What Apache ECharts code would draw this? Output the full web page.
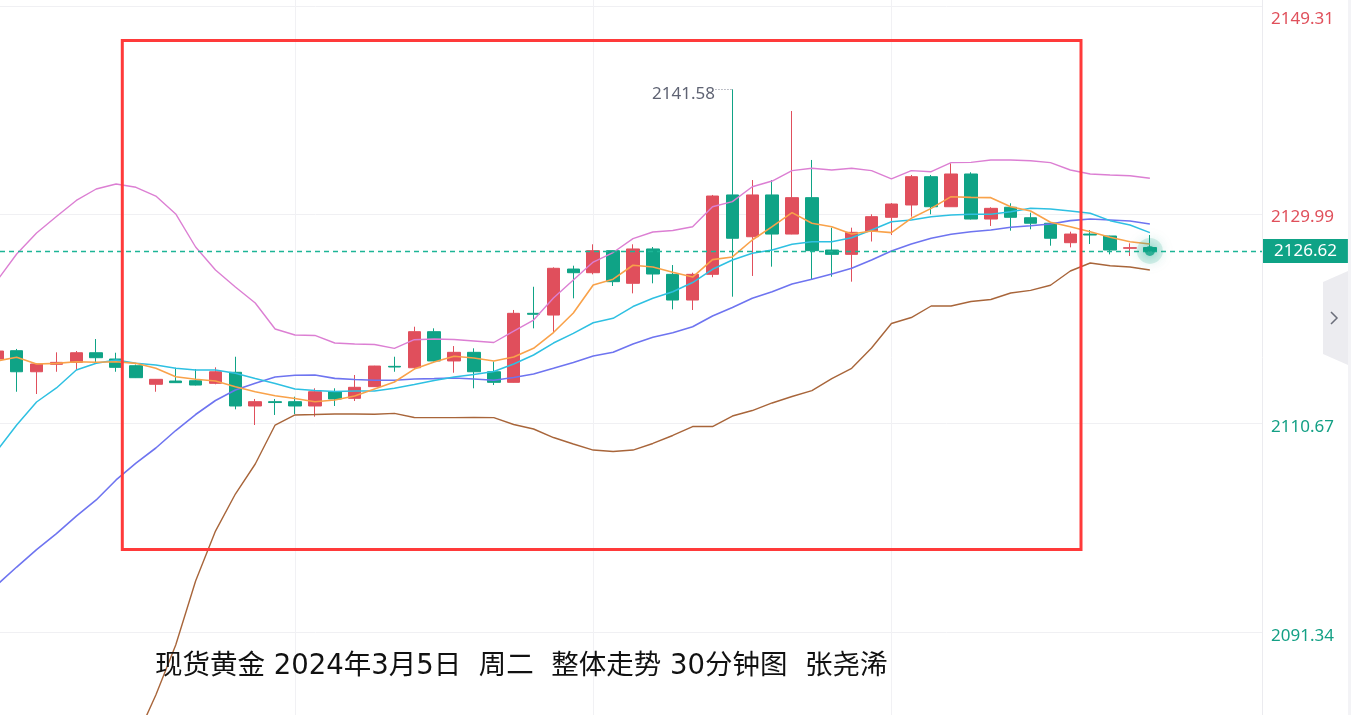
<!DOCTYPE html>
<html><head><meta charset="utf-8">
<script src="https://cdn.jsdelivr.net/npm/echarts@6/dist/echarts.min.js"></script>
<style>html,body{margin:0;padding:0;background:#fff;}#c{width:1351px;height:715px;}</style>
</head><body><div id="c"></div>
<script>
// ---- data (30-minute candles) ----
const OPEN  = [2116.61,2117.38,2115.43,2116.12,2116.30,2117.19,2116.61,2115.99,2114.27,2114.57,
               2114.60,2114.36,2115.38,2112.26,2112.66,2112.66,2112.26,2113.58,2112.97,2114.05,
               2115.93,2115.80,2119.14,2116.43,2117.23,2115.43,2114.45,2120.84,2120.68,2124.94,
               2124.60,2126.64,2123.62,2126.80,2124.45,2122.07,2124.45,2131.80,2127.93,2131.80,
               2128.18,2131.55,2126.70,2126.30,2128.42,2129.73,2130.87,2133.49,2130.71,2133.74,
               2129.57,2130.66,2129.69,2129.18,2127.38,2128.18,2128.00,2126.86,2126.93];
const CLOSE = [2117.35,2115.43,2116.15,2116.30,2117.19,2116.73,2115.84,2114.88,2114.73,2114.42,
               2114.20,2115.43,2112.26,2112.66,2112.58,2112.26,2113.58,2112.91,2113.99,2115.96,
               2115.87,2119.14,2116.43,2117.23,2115.43,2114.45,2120.84,2120.75,2125.01,2124.60,
               2126.64,2123.77,2126.80,2124.48,2122.07,2124.45,2131.70,2127.79,2131.80,2128.18,
               2131.55,2126.64,2126.30,2128.34,2129.79,2130.96,2133.49,2130.71,2133.74,2129.57,
               2130.56,2129.73,2129.18,2127.79,2128.18,2128.09,2126.70,2126.92,2126.62];
const LOW   = [2116.33,2113.58,2113.37,2115.43,2115.59,2116.30,2115.43,2114.85,2113.58,2114.40,
               2114.16,2114.27,2111.95,2110.50,2111.43,2111.52,2111.27,2112.26,2112.72,2114.03,
               2115.43,2115.66,2116.38,2115.34,2113.90,2114.20,2114.43,2119.45,2119.05,2122.23,
               2124.45,2123.37,2122.69,2123.62,2121.21,2121.15,2124.18,2122.38,2124.30,2125.16,
               2128.16,2123.99,2124.23,2123.77,2127.49,2128.09,2129.79,2130.01,2130.69,2129.53,
               2128.93,2128.49,2128.62,2127.10,2126.95,2127.26,2126.30,2126.15,2126.56];
const HIGH  = [2117.44,2117.54,2116.20,2117.23,2117.35,2118.46,2117.19,2116.10,2114.76,2115.80,
               2115.68,2115.84,2116.82,2112.91,2112.91,2113.12,2113.90,2113.90,2115.13,2115.98,
               2116.82,2119.60,2119.45,2117.81,2117.60,2116.38,2121.15,2123.30,2125.10,2125.25,
               2127.23,2126.66,2127.23,2126.98,2125.31,2124.60,2131.80,2141.58,2133.18,2133.18,
               2139.57,2135.04,2128.77,2128.77,2130.01,2131.05,2133.65,2133.65,2134.73,2133.90,
               2130.66,2131.03,2130.16,2129.20,2128.40,2128.55,2128.02,2127.32,2128.09];
// MA5 (orange)
const MA5   = [2116.43,2116.77,2116.15,2116.21,2116.36,2116.31,2116.36,2116.21,2115.75,2114.97,
               2114.73,2114.57,2114.05,2113.58,2113.21,2112.95,2112.66,2112.81,2113.18,2113.83,
               2114.48,2115.68,2116.33,2116.86,2116.70,2116.43,2116.80,2117.60,2119.06,2120.87,
               2123.46,2124.00,2125.29,2125.13,2124.65,2124.20,2125.81,2126.06,2127.63,2128.86,
               2130.16,2129.18,2128.86,2128.18,2128.46,2128.31,2129.64,2130.56,2131.64,2131.58,
               2131.55,2130.71,2130.31,2129.27,2128.86,2128.40,2127.88,2127.47,2127.26];
// MA10 (cyan)
const MA10  = [2108.09,2110.50,2112.63,2113.93,2115.59,2116.21,2116.52,2116.21,2116.06,2115.75,
               2115.59,2115.59,2115.29,2114.80,2114.34,2113.83,2113.69,2113.60,2113.65,2113.65,
               2113.90,2114.25,2114.62,2114.94,2115.18,2115.45,2116.15,2116.98,2118.09,2118.99,
               2119.97,2120.38,2121.47,2122.23,2122.84,2123.69,2124.92,2125.78,2126.40,2126.70,
               2127.23,2127.47,2127.47,2127.84,2128.56,2129.32,2129.48,2129.79,2129.94,2130.01,
               2130.01,2130.25,2130.56,2130.50,2130.31,2130.10,2129.42,2129.02,2128.31];
// Bollinger middle (blue)
const BOLL_MID = [2095.68,2097.35,2098.97,2100.45,2102.07,2103.56,2105.41,2106.98,2108.37,2109.99,
               2111.47,2112.77,2113.74,2114.36,2114.94,2115.10,2115.13,2114.82,2114.71,2114.65,
               2114.64,2114.76,2114.79,2114.85,2114.76,2114.65,2114.90,2115.22,2115.75,2116.29,
               2116.89,2117.23,2118.00,2118.62,2119.05,2119.60,2120.59,2121.38,2122.23,2122.84,
               2123.56,2123.99,2124.48,2125.01,2125.78,2126.61,2127.26,2127.79,2128.16,2128.40,
               2128.56,2128.81,2128.95,2129.11,2129.42,2129.57,2129.48,2129.39,2129.11];
// Bollinger upper (pink)
const BOLL_UP = [2123.83,2126.33,2128.28,2129.80,2131.29,2132.35,2132.81,2132.51,2131.70,2130.04,
               2126.98,2124.85,2123.28,2121.80,2119.39,2118.83,2118.79,2118.09,2118.00,2117.95,
               2117.60,2118.40,2118.46,2118.42,2118.28,2118.14,2119.20,2120.22,2122.26,2123.93,
               2125.59,2126.47,2127.75,2128.37,2128.51,2128.86,2130.71,2131.18,2132.56,2133.09,
               2134.05,2134.27,2134.11,2134.27,2134.05,2133.28,2134.05,2133.95,2134.79,2134.82,
               2135.04,2135.04,2134.97,2134.79,2134.11,2133.74,2133.65,2133.58,2133.34];
// Bollinger lower (brown)
const BOLL_DN = [2067.72,2069.11,2070.04,2071.06,2072.81,2074.76,2078.00,2081.43,2085.50,2090.13,
               2096.06,2100.68,2104.11,2106.89,2110.50,2111.43,2111.47,2111.52,2111.52,2111.49,
               2111.58,2111.19,2111.18,2111.18,2111.21,2111.18,2110.55,2110.13,2109.34,2108.74,
               2108.18,2108.05,2108.18,2108.79,2109.53,2110.36,2110.36,2111.33,2111.84,2112.54,
               2113.14,2113.69,2114.80,2115.75,2117.63,2119.90,2120.45,2121.52,2121.52,2121.93,
               2122.12,2122.72,2122.97,2123.44,2124.76,2125.50,2125.25,2125.13,2124.85];
const Y_TICKS = [2091.34, 2110.67, 2129.99, 2149.31];
const X_GRID = [15, 30, 45];
const LAST_PRICE = 2126.62;
const PEAK_INDEX = 37, PEAK_VALUE = 2141.58;
const CAPTION = '现货黄金 2024年3月5日  周二  整体走势 30分钟图  张尧浠';

// ---- chart ----
const RED = '#e04f5c', GREEN = '#0fa386';
const LABEL_RED = '#e0505b', LABEL_GREEN = '#14a085';
const chart = echarts.init(document.getElementById('c'), null, {renderer: 'canvas'});
const pair = arr => arr.map((v, i) => [i, v]);
const candles = OPEN.map((o, i) => [i, o, CLOSE[i], LOW[i], HIGH[i]]);
const lineSeries = (name, arr, color, w) => ({
  name, type: 'line', data: pair(arr), symbol: 'none', silent: true, z: 4,
  lineStyle: {color, width: w || 1.5}
});
const FONT = 'Noto Sans';
const lastIdx = CLOSE.length - 1;

const option = {
  animation: false,
  backgroundColor: '#ffffff',
  grid: {left: 0, right: 89, top: 0, bottom: 0},
  xAxis: {type: 'value', min: 0.161, max: 63.64, show: false},
  yAxis: {
    type: 'value', position: 'right', min: 2083.65, max: 2149.85,
    axisLine: {show: true, lineStyle: {color: '#ebebef', width: 1}},
    axisTick: {show: false, customValues: Y_TICKS},
    splitLine: {show: true, lineStyle: {color: '#f0f0f3', width: 1}},
    axisLabel: {
      customValues: Y_TICKS, margin: 9, fontFamily: FONT, fontSize: 17,
      formatter: v => {
        const key = v >= Y_TICKS[Y_TICKS.length - 1] ? 'top' : (v > LAST_PRICE ? 'up' : 'dn');
        return '{' + key + '|' + v.toFixed(2) + '}';
      },
      rich: {
        top: {color: LABEL_RED, fontFamily: FONT, fontSize: 17, padding: [27, 0, 0, 0]},
        up:  {color: LABEL_RED, fontFamily: FONT, fontSize: 17, padding: [6, 0, 0, 0]},
        dn:  {color: LABEL_GREEN, fontFamily: FONT, fontSize: 17, padding: [8, 0, 0, 0]}
      }
    }
  },
  series: [
    { // vertical grid lines
      type: 'line', data: [], z: 1, silent: true,
      markLine: {
        silent: true, z: 1, symbol: ['none', 'none'], label: {show: false},
        lineStyle: {color: '#f1f1f4', width: 1, type: 'solid'},
        data: X_GRID.map(x => ({xAxis: x}))
      }
    },
    { // current price line with its axis tag
      type: 'line', data: [], z: 5, silent: true, color: '#1db596',
      markLine: {
        silent: true, z: 5, symbol: ['none', 'none'], precision: 2,
        lineStyle: {color: '#1db596', width: 1.3, type: [5, 4], opacity: 1},
        label: {
          show: true, position: 'end', distance: 1,
          formatter: LAST_PRICE.toFixed(2),
          color: '#ffffff', backgroundColor: GREEN, padding: [4, 11, 3, 11],
          fontFamily: FONT, fontSize: 17
        },
        data: [{yAxis: LAST_PRICE, lineStyle: {color: '#1db596'}}]
      }
    },
    {
      name: 'K', type: 'candlestick', data: candles, barWidth: 13, z: 3,
      encode: {x: 0, y: [1, 2, 3, 4]},
      itemStyle: {color: RED, color0: GREEN, borderColor: RED, borderColor0: GREEN, borderWidth: 1},
      markLine: {
        silent: true, symbol: ['none', 'none'], z: 5,
        lineStyle: {color: '#7d8090', width: 1, type: [1, 2]},
        label: {show: false},
        data: [[{coord: [36.15, PEAK_VALUE]}, {coord: [PEAK_INDEX, PEAK_VALUE]}]]
      },
      markPoint: {
        silent: true, symbol: 'circle', symbolSize: 1,
        itemStyle: {color: 'rgba(0,0,0,0)'},
        label: {
          show: true, position: 'left', distance: 17, offset: [0, 5],
          color: '#5f6373', fontFamily: FONT, fontSize: 17,
          formatter: p => Number(p.value).toFixed(2)
        },
        data: [{coord: [PEAK_INDEX, PEAK_VALUE], value: PEAK_VALUE}]
      }
    },
    lineSeries('BOLL_UP', BOLL_UP, '#dc7fd3', 1.4),
    lineSeries('BOLL_DN', BOLL_DN, '#a8653a', 1.4),
    lineSeries('BOLL_MID', BOLL_MID, '#6e74f0', 1.6),
    lineSeries('MA10', MA10, '#2ec0e2', 1.5),
    lineSeries('MA5', MA5, '#f9a24a', 1.6),
    { // glow halo at the latest price
      type: 'scatter', data: [[lastIdx, LAST_PRICE]], symbolSize: 26, z: 6, silent: true,
      itemStyle: {color: 'rgba(15,163,134,0.18)', shadowBlur: 14, shadowColor: 'rgba(15,163,134,0.6)'}
    },
    {
      type: 'scatter', data: [[lastIdx, LAST_PRICE]], symbolSize: 10, z: 7, silent: true,
      itemStyle: {color: GREEN, shadowBlur: 12, shadowColor: 'rgba(15,163,134,0.9)'}
    }
  ],
  graphic: [
    {type: 'rect', silent: true, z: 10,
     shape: {x: 122.3, y: 40.5, width: 958.7, height: 509},
     style: {fill: 'none', stroke: '#ff3a3a', lineWidth: 3}},
    {type: 'text', silent: true, z: 10, x: 155, y: 667,
     style: {text: CAPTION, font: '27.5px "DejaVu Sans", "Noto Sans CJK SC"', fill: '#111111', verticalAlign: 'middle'}},
    {type: 'rect', silent: true, z: 9, shape: {x: 1348, y: 0, width: 3, height: 715}, style: {fill: '#f3f3f6'}},
    {type: 'polygon', silent: true, z: 9,
     shape: {points: [[1348, 271], [1323, 282], [1323, 354], [1348, 365]]}, style: {fill: '#ececf0'}},
    {type: 'polyline', silent: true, z: 10,
     shape: {points: [[1331, 312], [1337, 318], [1331, 324]]}, style: {stroke: '#6b6e7a', lineWidth: 1.5, fill: 'none'}}
  ]
};
chart.setOption(option);
</script>
</body></html>
